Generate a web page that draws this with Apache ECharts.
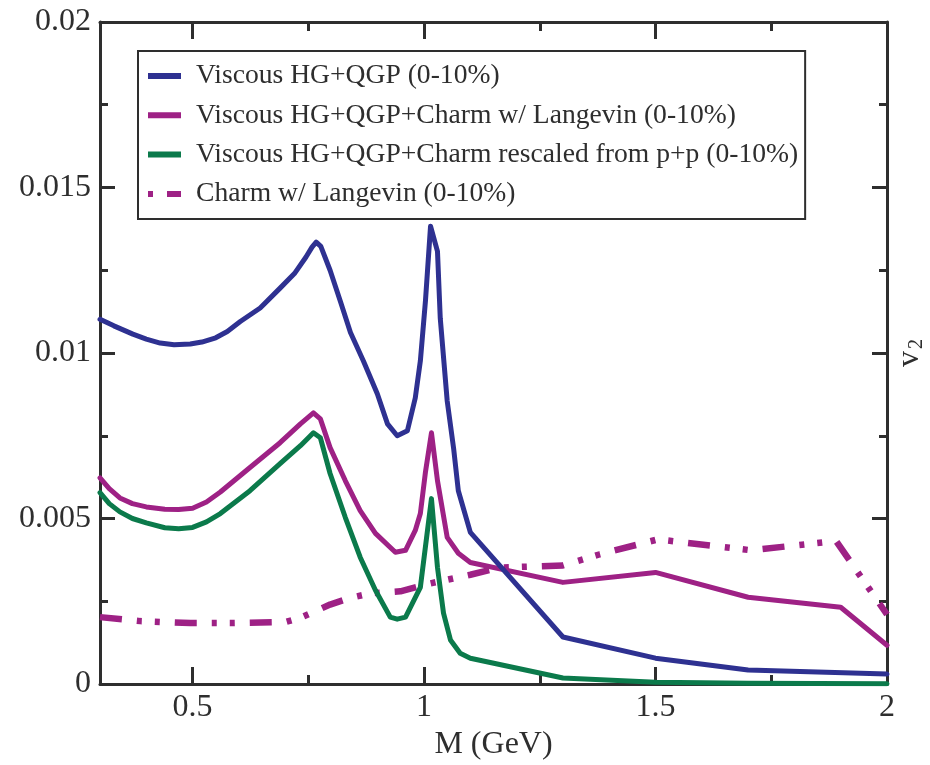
<!DOCTYPE html>
<html>
<head>
<meta charset="utf-8">
<script src="https://cdn.jsdelivr.net/npm/echarts@6/dist/echarts.min.js"></script>
<style>html,body{margin:0;padding:0;background:#fff}#c{width:930px;height:765px}</style>
</head>
<body>
<div id="c"></div>
<script>
// ---- data (M in GeV, v2) ----
const seriesNames = [
  'Viscous HG+QGP (0-10%)',
  'Viscous HG+QGP+Charm w/ Langevin (0-10%)',
  'Viscous HG+QGP+Charm rescaled from p+p (0-10%)',
  'Charm w/ Langevin (0-10%)'
];
const hgqgp = [
  [0.30,0.01102],[0.33,0.01082],[0.371,0.01057],[0.40,0.01042],[0.43,0.01030],[0.46,0.01025],
  [0.495,0.01027],[0.52,0.01033],[0.55,0.01046],[0.575,0.01065],[0.603,0.01095],[0.646,0.01136],
  [0.689,0.01196],[0.72,0.01240],[0.745,0.01290],[0.758,0.01320],[0.767,0.01335],[0.777,0.01322],
  [0.797,0.01250],[0.819,0.01157],[0.841,0.01062],[0.869,0.00976],[0.899,0.00877],[0.921,0.00786],
  [0.942,0.00750],[0.964,0.00765],[0.981,0.00864],[0.992,0.00976],[1.003,0.01157],[1.014,0.01383],
  [1.029,0.01307],[1.035,0.01105],[1.05,0.00855],[1.064,0.00710],[1.074,0.00584],[1.10,0.00458],
  [1.30,0.00142],[1.50,0.00078],[1.70,0.00042],[2.00,0.00030]
];
const hgqgpCharmLangevin = [
  [0.30,0.00623],[0.32,0.00590],[0.343,0.00562],[0.37,0.00545],[0.40,0.00535],[0.44,0.00528],
  [0.47,0.00527],[0.50,0.00531],[0.53,0.00550],[0.56,0.00580],[0.624,0.00654],[0.689,0.00729],
  [0.733,0.00786],[0.761,0.00819],[0.776,0.00801],[0.797,0.00714],[0.83,0.00614],[0.862,0.00524],
  [0.895,0.00455],[0.938,0.00398],[0.96,0.00404],[0.981,0.00464],[0.992,0.00515],[1.003,0.00640],
  [1.016,0.00759],[1.029,0.00614],[1.05,0.00443],[1.074,0.00395],[1.10,0.00367],[1.30,0.00307],
  [1.50,0.00337],[1.70,0.00262],[1.90,0.00232],[2.00,0.00117]
];
const hgqgpCharmPP = [
  [0.30,0.00578],[0.32,0.00545],[0.343,0.00520],[0.37,0.00500],[0.40,0.00487],[0.44,0.00472],
  [0.47,0.00469],[0.50,0.00473],[0.53,0.00490],[0.56,0.00515],[0.624,0.00584],[0.689,0.00666],
  [0.733,0.00720],[0.761,0.00759],[0.776,0.00744],[0.797,0.00636],[0.83,0.00503],[0.862,0.00383],
  [0.895,0.00283],[0.927,0.00202],[0.942,0.00196],[0.96,0.00202],[0.975,0.00244],[0.992,0.00292],
  [1.016,0.00560],[1.029,0.00352],[1.042,0.00214],[1.057,0.00133],[1.078,0.00093],[1.10,0.00078],
  [1.30,0.00018],[1.50,0.00005],[1.70,0.00002],[2.00,0.00001]
];
const charmLangevin = [
  [0.30,0.00202],[0.387,0.00190],[0.495,0.00184],[0.581,0.00184],[0.70,0.00187],[0.733,0.00200],
  [0.797,0.00240],[0.84,0.00260],[0.884,0.00274],[0.949,0.00280],[1.014,0.00304],[1.10,0.00330],
  [1.165,0.00352],[1.30,0.00358],[1.38,0.00392],[1.505,0.00437],[1.706,0.00404],[1.89,0.00432],
  [2.00,0.00210]
];
const xMajorTicks = [0.5, 1, 1.5, 2];
const xMinorTicks = [0.75, 1.25, 1.75];

// ---- styles ----
const FONT = 'Liberation Serif';
const AX = '#2e2e2e';
const colors = ['#2e3191', '#9e2185', '#0b7a4b', '#9e2185'];
const gridRect = {left: 100, right: 43, top: 22, bottom: 81, containLabel: false, outerBoundsMode: 'none'};

function xAx(gridIndex, position, ticks, len, withLabels, withLine) {
  return {
    type: 'value', gridIndex, position, min: 0.3, max: 2,
    axisLine: {show: withLine, onZero: false, lineStyle: {color: AX, width: 3}},
    axisTick: {show: true, inside: true, length: len, customValues: ticks, lineStyle: {color: AX, width: 3}},
    axisLabel: withLabels ? {show: true, customValues: ticks, fontFamily: FONT, fontSize: 32, color: AX, margin: 8}
                          : {show: false},
    splitLine: {show: false}
  };
}
function yAx(gridIndex, position, show, withLabels) {
  return {
    type: 'value', gridIndex, position, min: 0, max: 0.02, interval: 0.005,
    show: show,
    axisLine: {show: true, onZero: false, lineStyle: {color: AX, width: 3}},
    axisTick: {show: true, inside: true, length: 15, lineStyle: {color: AX, width: 3}},
    minorTick: {show: true, splitNumber: 2, length: 8, lineStyle: {color: AX, width: 3}},
    axisLabel: withLabels ? {show: true, fontFamily: FONT, fontSize: 32, color: AX, margin: 9} : {show: false},
    splitLine: {show: false}
  };
}

const xAxes = [
  Object.assign(xAx(0, 'bottom', xMajorTicks, 17, true, true), {
    name: 'M (GeV)', nameLocation: 'middle', nameGap: 44,
    nameTextStyle: {fontFamily: FONT, fontSize: 32, color: AX}
  }),
  xAx(0, 'top', xMajorTicks, 17, false, true),
  xAx(1, 'bottom', xMinorTicks, 9, false, false),
  xAx(1, 'top', xMinorTicks, 9, false, false)
];
const yAxes = [
  yAx(0, 'left', true, true),
  Object.assign(yAx(0, 'right', true, false), {
    name: '{v|v}{s|2}', nameLocation: 'middle', nameGap: 6, nameRotate: 90,
    nameTextStyle: {fontFamily: FONT, color: AX,
      rich: {v: {fontFamily: FONT, fontSize: 32, color: AX},
             s: {fontFamily: FONT, fontSize: 20, color: AX, verticalAlign: 'bottom', padding: [14, 0, 0, 2]}}}
  }),
  Object.assign(yAx(1, 'left', false, false), {show: false})
];

const dataSets = [hgqgp, hgqgpCharmLangevin, hgqgpCharmPP, charmLangevin];
const series = dataSets.map((d, i) => ({
  name: seriesNames[i], type: 'line', xAxisIndex: 0, yAxisIndex: 0,
  data: d, symbol: 'none', smooth: false, z: i === 3 ? 1 : 2 + (3 - i),
  lineStyle: i === 3 ? {color: colors[i], width: 6.5, type: [22, 15, 5, 13, 5, 15], cap: 'butt'}
                     : {color: colors[i], width: 5, join: 'round', cap: 'round'},
  itemStyle: {color: colors[i]}
}));

const chart = echarts.init(document.getElementById('c'), null, {renderer: 'canvas'});
chart.setOption({
  animation: false,
  backgroundColor: '#ffffff',
  grid: [Object.assign({}, gridRect), Object.assign({}, gridRect)],
  xAxis: xAxes,
  yAxis: yAxes,
  legend: {
    orient: 'vertical', left: 138, top: 51,
    padding: [10, 7, 10, 10],
    itemWidth: 33, itemHeight: 6, itemGap: 9.3,
    icon: 'rect',
    borderColor: AX, borderWidth: 2, backgroundColor: '#fff',
    textStyle: {fontFamily: FONT, fontSize: 27.6, color: AX, lineHeight: 30, padding: [0, 0, 0, 10]},
    data: [
      {name: seriesNames[0]},
      {name: seriesNames[1]},
      {name: seriesNames[2]},
      {name: seriesNames[3], icon: 'path://M0,0h5v6h-5zM19,0h14v6h-14z'}
    ]
  },
  series: series
});
</script>
</body>
</html>
